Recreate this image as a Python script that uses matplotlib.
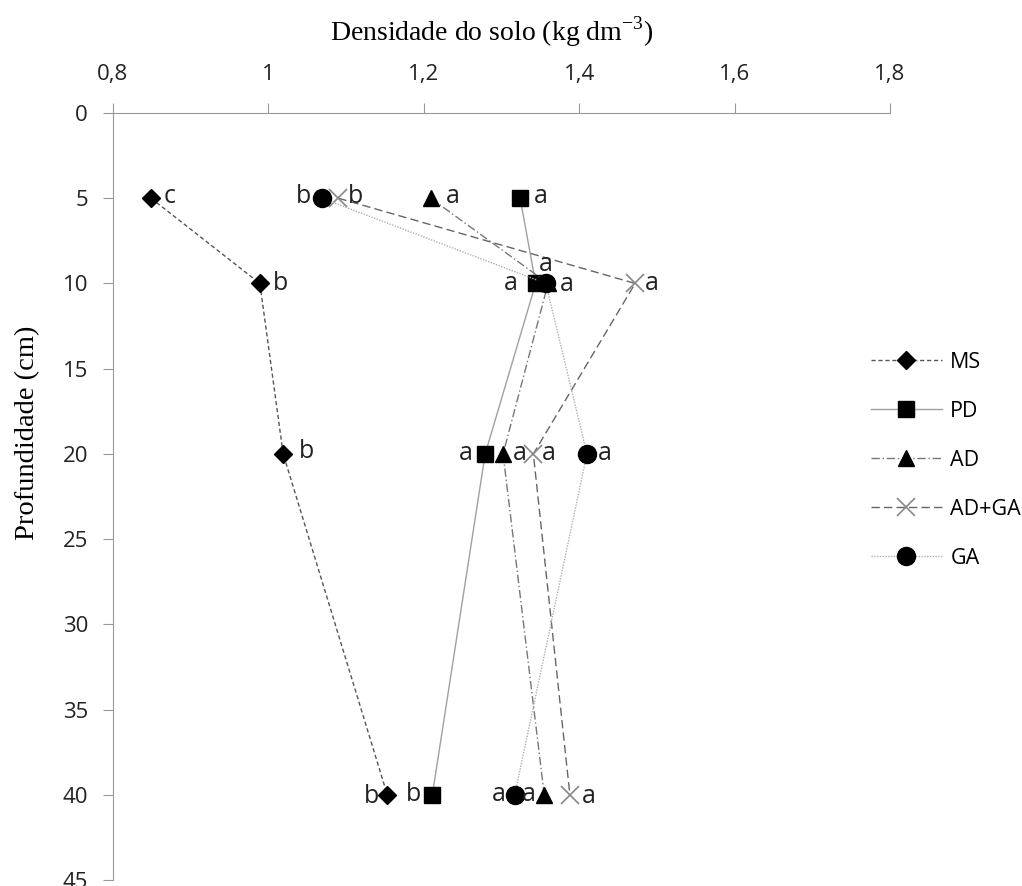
"""
Densidade do solo x profundidade
"""
import matplotlib.pyplot as plt
from matplotlib.ticker import FuncFormatter

profundidade = [5, 10, 20, 40]

ms = [0.849, 0.989, 1.019, 1.153]
pd_ = [1.324, 1.344, 1.279, 1.211]
ad = [1.209, 1.360, 1.302, 1.355]
ad_ga = [1.090, 1.472, 1.341, 1.388]
ga = [1.069, 1.357, 1.410, 1.317]

letras_ms = ['c', 'b', 'b', 'b']
letras_pd = ['a', 'a', 'a', 'b']
letras_ad = ['a', 'a', 'a', 'a']
letras_ad_ga = ['b', 'a', 'a', 'a']
letras_ga = ['b', 'a', 'a', 'a']

# onde fica cada letra em relacao ao ponto (pixels, alinhamento)
pos_ms = [(13, 2, 'left'), (13, 0, 'left'), (16, 2, 'left'), (-8, -2, 'right')]
pos_pd = [(14, 2, 'left'), (-18, 0, 'right'), (-12, 0, 'right'), (-11, 0, 'right')]
pos_ad = [(15, 2, 'left'), (12, -1, 'left'), (10, 0, 'left'), (-8, 0, 'right')]
pos_ad_ga = [(10, 2, 'left'), (10, 0, 'left'), (9, 0, 'left'), (12, -2, 'left')]
pos_ga = [(-11, 2, 'right'), (0, 19, 'center'), (11, 0, 'left'), (-9, 0, 'right')]

plt.rcParams['font.family'] = ['Open Sans', 'DejaVu Sans']
plt.rcParams['mathtext.fontset'] = 'custom'
plt.rcParams['mathtext.rm'] = 'Liberation Serif'

fig = plt.figure(figsize=(10.22, 8.86), dpi=100)
ax = fig.add_axes([113 / 1022, 1 - 880 / 886, 777 / 1022, 767 / 886])

series = [
    ("MS", ms, letras_ms, pos_ms, dict(color='#555555', ls=(0, (3, 2)), marker='D', ms=9, mfc='black', mec='black')),
    ("PD", pd_, letras_pd, pos_pd, dict(color='#a0a0a0', ls='-', marker='s', ms=12, mfc='black', mec='black')),
    ("AD", ad, letras_ad, pos_ad, dict(color='#777777', ls=(0, (6, 2, 1, 2)), marker='^', ms=12, mfc='black', mec='black')),
    ("AD+GA", ad_ga, letras_ad_ga, pos_ad_ga, dict(color='#666666', ls=(0, (6, 3)), marker='x', ms=13, mec='#888888', mew=1.2)),
    ("GA", ga, letras_ga, pos_ga, dict(color='#b0b0b0', ls=(0, (1, 1)), marker='o', ms=13, mfc='black', mec='black')),
]

for nome, vals, letras, pos, estilo in series:
    ax.plot(vals, profundidade, lw=1, label=nome, **estilo)
    for x, y, l, (dx, dy, ha) in zip(vals, profundidade, letras, pos):
        ax.annotate(l, (x, y), xytext=(dx, dy), textcoords='offset pixels',
                    ha=ha, va='center', fontsize=18, color='#222222')

ax.set_xlim(0.8, 1.8)
ax.set_ylim(45, 0)
ax.set_xticks([0.8, 1.0, 1.2, 1.4, 1.6, 1.8])
ax.set_yticks(range(0, 50, 5))
ax.xaxis.set_major_formatter(FuncFormatter(lambda v, p: f"{v:g}".replace('.', ',')))
ax.xaxis.tick_top()

for s in ['right', 'bottom']:
    ax.spines[s].set_visible(False)
for s in ['left', 'top']:
    ax.spines[s].set_color('#999999')
ax.tick_params(axis='both', colors='#999999', labelcolor='#222222', labelsize=16, length=7, direction='out')
ax.tick_params(axis='x', pad=13)
ax.tick_params(axis='y', pad=11)

fig.text(492 / 1022, 1 - 32 / 886, r"Densidade do solo (kg dm$^{\mathrm{-3}}$)",
         family='Liberation Serif', fontsize=20, ha='center', va='center')
fig.text(28 / 1022, 1 - 433 / 886, "Profundidade (cm)",
         family='Liberation Serif', fontsize=20.5, ha='center', va='center', rotation=90)

leg = ax.legend(loc='upper left', bbox_to_anchor=((862 - 113) / 777, 1 - (343 - 113) / 767),
                frameon=False, fontsize=15.5, handlelength=3.3, labelspacing=1.3,
                handletextpad=0.4, borderaxespad=0)

fig.savefig("out.png", dpi=100)
